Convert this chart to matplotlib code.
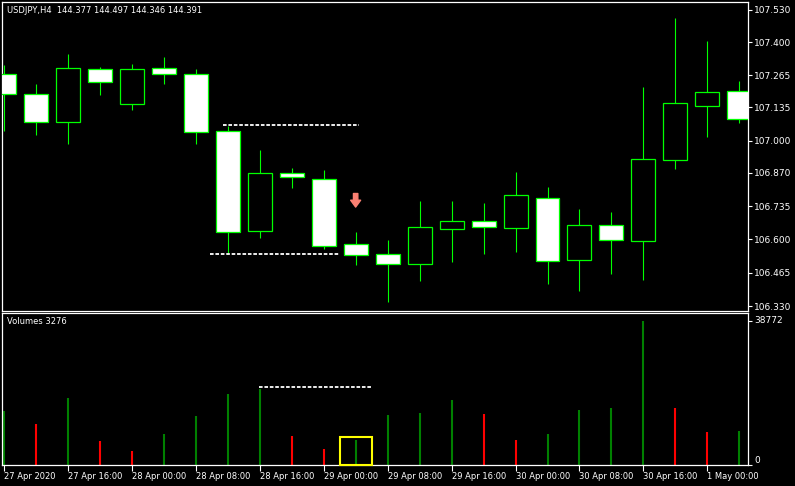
import matplotlib
matplotlib.use("Agg")
import matplotlib.pyplot as plt
from matplotlib.patches import Rectangle

# ---------------- data ----------------
opens  = [107.271, 107.188, 107.077, 107.290, 107.150, 107.294, 107.269, 107.038,
          106.633, 106.868, 106.844, 106.580, 106.540, 106.502, 106.643, 106.673,
          106.647, 106.767, 106.515, 106.657, 106.592, 106.923, 107.142, 107.200]
highs  = [107.307, 107.230, 107.352, 107.299, 107.311, 107.339, 107.291, 107.060,
          106.962, 106.889, 106.881, 106.630, 106.598, 106.756, 106.756, 106.748,
          106.873, 106.812, 106.723, 106.711, 107.218, 107.498, 107.404, 107.242]
lows   = [107.040, 107.023, 106.987, 107.185, 107.126, 107.230, 106.987, 106.544,
          106.607, 106.810, 106.561, 106.496, 106.347, 106.431, 106.508, 106.541,
          106.549, 106.419, 106.391, 106.461, 106.437, 106.887, 107.016, 107.073]
closes = [107.190, 107.077, 107.294, 107.239, 107.290, 107.269, 107.037, 106.631,
          106.868, 106.854, 106.574, 106.538, 106.502, 106.649, 106.673, 106.652,
          106.779, 106.514, 106.657, 106.596, 106.925, 107.152, 107.196, 107.089]
volumes = [14450, 11110, 17980, 6510, 3800, 8400, 13010, 18980, 20330, 7860, 4340, 6780,
           13290, 13830, 17350, 13560, 6780, 8400, 14640, 15180, 38772, 15180, 8950, 9000]

time_label_idx = [0, 2, 4, 6, 8, 10, 12, 14, 16, 18, 20, 22]
time_labels = ["27 Apr 2020", "27 Apr 16:00", "28 Apr 00:00", "28 Apr 08:00",
               "28 Apr 16:00", "29 Apr 00:00", "29 Apr 08:00", "29 Apr 16:00",
               "30 Apr 00:00", "30 Apr 08:00", "30 Apr 16:00", "1 May 00:00"]
price_ticks = [107.530, 107.400, 107.265, 107.135, 107.000, 106.870, 106.735,
               106.600, 106.465, 106.330]
vol_ticks = [0, 38772]

title_text = "USDJPY,H4  144.377 144.497 144.346 144.391"
vol_title = "Volumes 3276"

# annotation objects (bar index, value)
price_dash_1 = (6.84, 11.09, 107.064)
price_dash_2 = (6.44, 10.50, 106.542)
vol_dash = (7.98, 11.47, 20870)
arrow_pt = (11, 106.786, 106.731)
vol_box = (10.5, 11.5, 0, 7500)

# ---------------- style ----------------
W, H = 795, 486
BG = "black"
FG = "white"
LIME = "#00ff00"
FONT = "DejaVu Sans"
FS = 6.5
FS_X = 6.0

fig = plt.figure(figsize=(W / 100, H / 100), dpi=100, facecolor=BG)

def fr(x0, y0, x1, y1):
    return [x0 / W, 1 - y1 / H, (x1 - x0) / W, (y1 - y0) / H]

ax = fig.add_axes(fr(2.3, 2.3, 748, 310.7), facecolor=BG)
axv = fig.add_axes(fr(2.3, 312.7, 748, 464.7), facecolor=BG)

n = len(opens)
xl = (-0.05, 23.27)

# candles
bw = 0.75
for i in range(n):
    o, h, l, c = opens[i], highs[i], lows[i], closes[i]
    ax.vlines(i, l, h, color=LIME, lw=0.8, zorder=2)
    bull = c > o
    bottom = min(o, c)
    height = max(abs(c - o), 0.001)
    ax.add_patch(Rectangle((i - bw / 2, bottom), bw, height,
                           facecolor="black" if bull else "white",
                           edgecolor=LIME, lw=0.9, zorder=3))

ax.set_xlim(*xl)
ax.set_ylim(106.311, 107.561)

for (x0, x1, y) in [price_dash_1, price_dash_2]:
    ax.plot([x0, x1], [y, y], color=FG, lw=1.3, dashes=(2, 1), zorder=4)

ax.annotate("", xy=(arrow_pt[0], arrow_pt[2]), xytext=(arrow_pt[0], arrow_pt[1]),
            arrowprops=dict(arrowstyle="simple,head_length=0.55,head_width=0.8,tail_width=0.35",
                            color="#fa8072", mutation_scale=9, shrinkA=0, shrinkB=0), zorder=5)

fig.text(7 / W, 1 - 10.7 / H, title_text, color=FG, fontsize=FS_X, family=FONT,
         va="center", ha="left")

# volumes
vcolors = []
for i, v in enumerate(volumes):
    if i == 0 or v > volumes[i - 1]:
        vcolors.append("#008000")
    else:
        vcolors.append("#ff0000")
axv.vlines(range(n), 0, volumes, colors=vcolors, lw=1.5, zorder=2)
axv.set_xlim(*xl)
axv.set_ylim(0, 41010)

x0, x1, y = vol_dash
axv.plot([x0, x1], [y, y], color=FG, lw=1.3, dashes=(2, 1), zorder=4)
bx0, bx1, by0, by1 = vol_box
axv.add_patch(Rectangle((bx0, by0), bx1 - bx0, by1 - by0, fill=False,
                        edgecolor="#ffff00", lw=1.5, zorder=5, clip_on=False))

fig.text(7 / W, 1 - 321.7 / H, vol_title, color=FG, fontsize=FS_X, family=FONT,
         va="center", ha="left")

# axes styling
for a in (ax, axv):
    for s in a.spines.values():
        s.set_color(FG)
        s.set_linewidth(0.9)
    a.yaxis.tick_right()
    a.tick_params(axis="y", colors=FG, labelcolor=FG, direction="out", length=3,
                  width=0.8, pad=1.5, labelsize=FS)

ax.set_yticks(price_ticks)
ax.set_yticklabels([f"{p:.3f}" for p in price_ticks], family=FONT, fontsize=FS, color=FG)
ax.set_xticks([])

axv.set_yticks(vol_ticks)
vl = axv.set_yticklabels([str(v) for v in vol_ticks], family=FONT, fontsize=FS, color=FG)
vl[0].set_va("bottom")
vl[1].set_va("center")

axv.set_xticks(time_label_idx)
axv.set_xticklabels(time_labels, family=FONT, fontsize=FS_X, color=FG, ha="left")
axv.tick_params(axis="x", colors=FG, labelcolor=FG, direction="out", length=4,
                width=0.8, pad=1.5, labelsize=FS_X)

fig.savefig("out.png", dpi=100, facecolor=BG)
